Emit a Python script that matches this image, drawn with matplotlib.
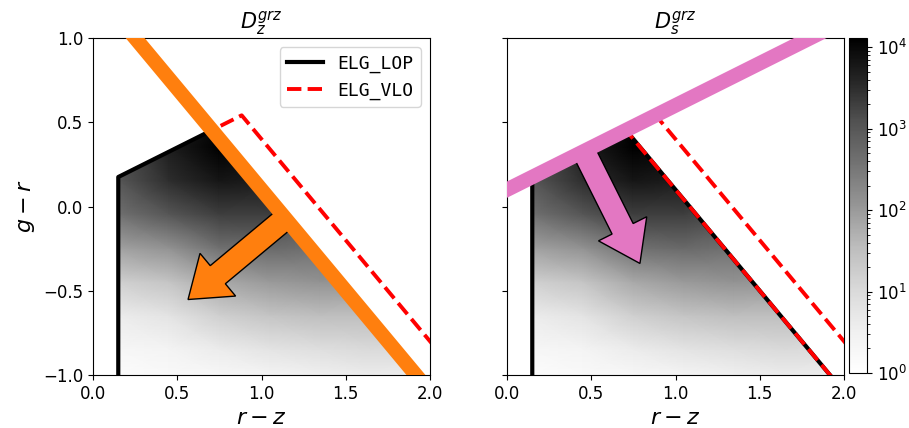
import numpy as np
import matplotlib
matplotlib.use("Agg")
import matplotlib.pyplot as plt
from matplotlib.colors import LogNorm
from matplotlib.patches import Polygon

# --- ELG colour cuts (g-r vs r-z) ---
rz_min = 0.15            # r-z > 0.15
slide_slope = 0.5        # g-r < 0.5 (r-z) + 0.1
slide_icpt = 0.1
color_slope = -1.2       # g-r < -1.2 (r-z) + b
lop_icpt = 1.3
vlo_icpt = 1.6

# --- binned density of targets: log10(counts) on a coarse (r-z, g-r) grid ---
rz_grid = [0.15, 0.45, 0.75, 1.05, 1.35, 1.65, 1.95]
gr_grid = [0.55, 0.35, 0.15, -0.05, -0.25, -0.45, -0.65, -0.85, -1.0]
log_counts = [
    [2.9, 3.6, 4.1, 4.1, 3.5, 3.0, 2.5],
    [3.0, 3.7, 4.1, 4.0, 3.4, 3.0, 2.5],
    [3.0, 3.5, 3.8, 3.7, 3.3, 2.8, 2.4],
    [2.6, 3.0, 3.3, 3.3, 3.0, 2.7, 2.3],
    [1.9, 2.1, 2.6, 2.7, 2.6, 2.4, 2.1],
    [1.2, 1.4, 1.8, 2.0, 2.1, 2.0, 1.8],
    [0.6, 0.8, 1.2, 1.4, 1.5, 1.5, 1.4],
    [0.3, 0.4, 0.6, 0.8, 0.9, 1.0, 0.9],
    [0.1, 0.2, 0.3, 0.4, 0.5, 0.6, 0.6],
]
count_range = (1.0, 1.3e4)

titles = [r"$D_z^{grz}$", r"$D_s^{grz}$"]
legend_labels = ["ELG_LOP", "ELG_VLO"]
xticks = [0.0, 0.5, 1.0, 1.5, 2.0]
yticks = [-1.0, -0.5, 0.0, 0.5, 1.0]

ORANGE = "#ff7f0e"
PINK = "#e377c2"


def cross(m1, b1, m2, b2):
    x = (b2 - b1) / (m1 - m2)
    return x, m1 * x + b1


ylow = -1.1
xa, ya = rz_min, slide_slope * rz_min + slide_icpt
xb, yb = cross(slide_slope, slide_icpt, color_slope, lop_icpt)
xc, yc = cross(slide_slope, slide_icpt, color_slope, vlo_icpt)
x_lop_end = (ylow - lop_icpt) / color_slope
x_vlo_end = (ylow - vlo_icpt) / color_slope

lop_x = [xa, xa, xb, x_lop_end]
lop_y = [ylow, ya, yb, ylow]
vlo_x = [x_lop_end, xb, xc, x_vlo_end]
vlo_y = [ylow, yb, yc, ylow]

fig = plt.figure(figsize=(9.09, 4.28), dpi=100)
W, H = 909, 428
ax1 = fig.add_axes([93 / W, 53 / H, 337 / W, 337 / H])
ax2 = fig.add_axes([507 / W, 53 / H, 337 / W, 337 / H])
cax = fig.add_axes([849 / W, 55 / H, 18 / W, 335 / H])

norm = LogNorm(vmin=count_range[0], vmax=count_range[1])
X, Y = np.meshgrid(rz_grid, gr_grid)
C = 10 ** np.array(log_counts)

mesh = None
for ax, title in zip([ax1, ax2], titles):
    mesh = ax.pcolormesh(X, Y, C, cmap="Greys", norm=norm, shading="gouraud",
                         zorder=1)
    clip = Polygon(list(zip(lop_x, lop_y)), closed=True,
                   transform=ax.transData)
    mesh.set_clip_path(clip)
    ax.plot(lop_x, lop_y, color="k", lw=3, zorder=3, label=legend_labels[0])
    ax.plot(vlo_x, vlo_y, color="red", ls="--", lw=2.8, zorder=4,
            label=legend_labels[1])
    ax.set_xlim(0, 2)
    ax.set_ylim(-1, 1)
    ax.set_xticks(xticks)
    ax.set_yticks(yticks)
    ax.tick_params(labelsize=12)
    ax.set_xlabel(r"$r-z$", fontsize=16)
    ax.set_title(title, fontsize=15)

ax2.tick_params(labelleft=False)
ax1.set_ylabel(r"$g-r$", fontsize=16)

xs = np.array([-0.5, 2.5])
# D_z direction: band along the LOP colour cut, arrow pointing to lower redshift
ax1.plot(xs, color_slope * xs + lop_icpt, color=ORANGE, lw=10.5,
         solid_capstyle="butt", zorder=6)
n1 = np.array([color_slope, -1.0]) / np.hypot(color_slope, 1.0)
tip1 = np.array([0.564, -0.552])
t1 = (color_slope * tip1[0] + lop_icpt - tip1[1]) / (color_slope * n1[0] - n1[1])
start1 = tip1 - t1 * n1
ax1.arrow(start1[0], start1[1], tip1[0] - start1[0], tip1[1] - start1[1],
          width=0.14, head_width=0.33, head_length=0.23,
          length_includes_head=True, fc=ORANGE, ec="k", lw=1, zorder=5)

# D_s direction: band along the sliding cut, arrow pointing down-right
ax2.plot(xs, slide_slope * xs + slide_icpt, color=PINK, lw=10.5,
         solid_capstyle="butt", zorder=6)
n2 = np.array([slide_slope, -1.0]) / np.hypot(slide_slope, 1.0)
tip2 = np.array([0.789, -0.338])
t2 = (slide_slope * tip2[0] + slide_icpt - tip2[1]) / (slide_slope * n2[0] - n2[1])
start2 = tip2 - t2 * n2
ax2.arrow(start2[0], start2[1], tip2[0] - start2[0], tip2[1] - start2[1],
          width=0.14, head_width=0.32, head_length=0.23,
          length_includes_head=True, fc=PINK, ec="k", lw=1, zorder=5)

leg = ax1.legend(loc="upper right", prop={"family": "DejaVu Sans Mono",
                                          "size": 13})
leg.set_zorder(10)

cb = fig.colorbar(mesh, cax=cax)
cb.ax.tick_params(labelsize=12)

fig.savefig("out.png", dpi=100)
